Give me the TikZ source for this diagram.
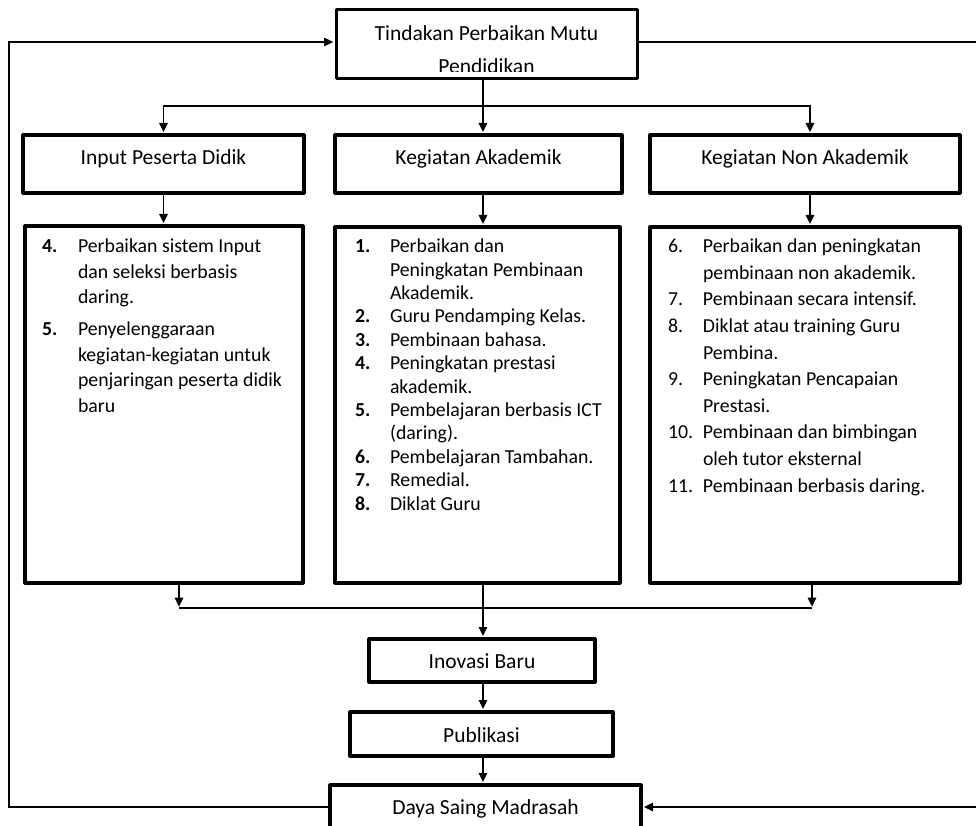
\documentclass[tikz,border=0pt]{standalone}
\usepackage{fontspec}
\setmainfont{Carlito}
\usetikzlibrary{arrows.meta}

% list body: box width/height, top offset, left offset, number column width, line pitch
\newcommand{\listbody}[6]{%
  \begin{minipage}[c][#2][t]{#1}%
    \vspace*{#3}%
    \fontsize{19.8}{#6}\selectfont
    \hspace*{#4}\def\numw{#5}%
    \begin{tabular}[t]{@{}l@{}l@{}}%
}
\newcommand{\listend}{\end{tabular}\end{minipage}}
\newcommand{\nr}[1]{\makebox[\numw][l]{#1}}

\begin{document}
\begin{tikzpicture}[x=1pt,y=-1pt,
  box/.style={draw, line width=3.2pt, line join=round, inner sep=0pt,
    font=\fontsize{21.5}{26}\selectfont, text depth=0pt},
  listbox/.style={draw, line width=3.2pt, line join=round, inner sep=0pt},
  link/.style={line width=1.6pt},
  arr/.style={link, shorten >=1.4pt, -{Triangle[length=9pt,width=8.5pt]}},
  feed/.style={line width=1.3pt, shorten >=1.4pt, -{Triangle[length=9pt,width=8.5pt]}},
  caption/.style={font=\fontsize{21.5}{26}\selectfont, inner sep=0pt, anchor=base}
]
\useasboundingbox (0,0) rectangle (976,826);

% top action box, its caption is cut by the lower border
\node[listbox, line width=3pt, minimum width=301pt, minimum height=69pt] (top) at (486.5,44.5) {};
\begin{scope}
  \clip (top.north west) rectangle ([yshift=8.5pt]top.south east);
  \node[caption] (toptext1) at (486.5,41) {Tindakan Perbaikan Mutu};
  \node[caption] (toptext2) at (486.5,73.5) {Pendidikan};
\end{scope}

% three column headers
\node[box, minimum width=281pt, minimum height=58pt, text height=2pt] (h1) at (163.5,164) {Input Peserta Didik};
\node[box, minimum width=287pt, minimum height=58pt, text height=2pt] (h2) at (478.5,164) {Kegiatan Akademik};
\node[box, minimum width=310pt, minimum height=58pt, text height=2pt] (h3) at (805,164) {Kegiatan Non Akademik};

% three list boxes
\node[listbox, minimum width=278pt, minimum height=357pt] (l1) at (164,404.5) {%
  \listbody{278pt}{357pt}{8.9pt}{17pt}{36pt}{25.5}
  \nr{\textbf{4.}} & Perbaikan sistem Input\\
  & dan seleksi berbasis\\
  & daring.\\[6.5pt]
  \nr{\textbf{5.}} & Penyelenggaraan\\
  & kegiatan-kegiatan untuk\\
  & penjaringan peserta didik\\
  & baru
  \listend};

\node[listbox, minimum width=285pt, minimum height=356pt] (l2) at (477.5,405) {%
  \listbody{285pt}{356pt}{9.3pt}{20pt}{35pt}{23.4}
  \nr{\textbf{1.}} & Perbaikan dan\\
  & Peningkatan Pembinaan\\
  & Akademik.\\
  \nr{\textbf{2.}} & Guru Pendamping Kelas.\\
  \nr{\textbf{3.}} & Pembinaan bahasa.\\
  \nr{\textbf{4.}} & Peningkatan prestasi\\
  & akademik.\\
  \nr{\textbf{5.}} & Pembelajaran berbasis ICT\\
  & (daring).\\
  \nr{\textbf{6.}} & Pembelajaran Tambahan.\\
  \nr{\textbf{7.}} & Remedial.\\
  \nr{\textbf{8.}} & Diklat Guru
  \listend};

\node[listbox, minimum width=310pt, minimum height=356pt] (l3) at (805,405) {%
  \listbody{310pt}{356pt}{7.1pt}{18pt}{35pt}{26.6}
  \nr{6.} & Perbaikan dan peningkatan\\
  & pembinaan non akademik.\\
  \nr{7.} & Pembinaan secara intensif.\\
  \nr{8.} & Diklat atau training Guru\\
  & Pembina.\\
  \nr{9.} & Peningkatan Pencapaian\\
  & Prestasi.\\
  \nr{10.} & Pembinaan dan bimbingan\\
  & oleh tutor eksternal\\
  \nr{11.} & Pembinaan berbasis daring.
  \listend};

% result chain
\node[box, minimum width=226pt, minimum height=43pt, text height=15pt] (ino) at (482,660.5) {Inovasi Baru};
\node[box, minimum width=263pt, minimum height=44pt, text height=16pt] (pub) at (481.5,734) {Publikasi};
\node[box, minimum width=311pt, minimum height=55pt, text height=3pt] (daya) at (485.5,812.5) {Daya Saing Madrasah};

% routing points
\coordinate (ax) at (483,0);
\coordinate (c3) at (810,0);
\coordinate (jt) at (483,106);
\coordinate (b1) at (179,608);
\coordinate (b3) at (812,608);
\coordinate (lb) at (9,807);
\coordinate (lt) at (9,42);
\coordinate (rb) at (992,807);
\coordinate (rt) at (992,42);

% distribution to the three columns
\draw[arr] (top.south -| ax) -- (h2.north -| ax);
\draw[arr] (jt) -| (h1.north);
\draw[arr] (jt) -| (h3.north -| c3);

% headers to lists
\draw[arr] (h1.south) -- (h1.south |- l1.north);
\draw[arr] (h2.south -| ax) -- (l2.north -| ax);
\draw[arr] (h3.south -| c3) -- (l3.north -| c3);

% lists merge into the result chain
\draw[arr] (l1.south -| b1) -- (b1);
\draw[arr] (l3.south -| b3) -- (b3);
\draw[link] (b1) -- (b3);
\draw[arr] (l2.south -| ax) -- (ino.north -| ax);
\draw[arr] (ino.south -| ax) -- (pub.north -| ax);
\draw[arr] (pub.south -| ax) -- (daya.north -| ax);

% feedback loops
\draw[feed] (lb -| daya.west) -- (lb) -- (lt) -- (lt -| top.west);
\draw[feed] (rt -| top.east) -- (rt) -- (rb) -- (rb -| daya.east);
\end{tikzpicture}
\end{document}
